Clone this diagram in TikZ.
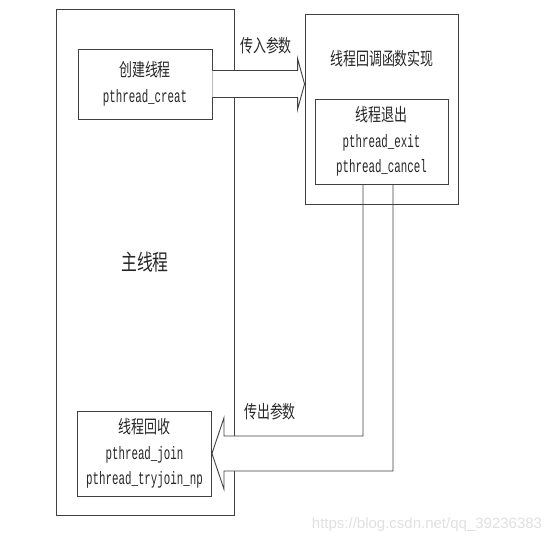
\documentclass[tikz,border=0pt]{standalone}
\usepackage{fontspec}
\setmainfont{Liberation Mono}[FakeStretch=0.6]
\newfontfamily\cjk{Noto Sans CJK SC}[FakeStretch=0.72]
\newfontfamily\wmfont{Liberation Sans}
\usetikzlibrary{calc, positioning}

\begin{document}
\begin{tikzpicture}[x=1pt, y=-1pt,
    box/.style={draw=black!75, line width=0.9pt, rectangle, inner sep=0pt, text=black!85, align=center, font=\fontsize{18}{25.5}\selectfont},
    txt/.style={text=black!85, inner sep=0pt, font=\fontsize{18}{22}\selectfont\cjk},
    edge/.style={draw=black!75, line width=0.9pt},
    hollow/.style={edge, fill=white, line join=miter}]
        \useasboundingbox (0,0) rectangle (557,545);
        % Boxes
        \node[box, minimum width=178pt, minimum height=506pt, font=\fontsize{22}{22}\selectfont\cjk] (main) at (145,262) {主线程};
        \node[box, minimum width=134pt, minimum height=70pt] (create) at (145,84) {{\cjk 创建线程}\\pthread\_creat};
        \node[box, minimum width=153pt, minimum height=190pt] (callback) at (381.5,109) {};
        \node[txt] (cbtitle) at (382,59) {线程回调函数实现};
        \node[box, minimum width=133pt, minimum height=85pt] (exit) at (381.5,141.5) {{\cjk 线程退出}\\pthread\_exit\\pthread\_cancel};
        \node[box, minimum width=134pt, minimum height=85pt] (recycle) at (144.5,453.5) {{\cjk 线程回收}\\pthread\_join\\pthread\_tryjoin\_np};

        % Pass-in arrow
        \coordinate (intip) at (callback.west |- create.east);
        \draw[hollow] ($(create.east)+(0,-13.5)$) -- ($(intip)+(-7,-13.5)$) -- ++(0,-12) -- (intip)
            -- ($(intip)+(-7,25.5)$) -- ++(0,-12) -- ($(create.east)+(0,13.5)$);
        \node[txt] (inlbl) at (266,46) {传入参数};

        % Pass-out arrow
        \coordinate (outtip) at (recycle.east);
        \draw[hollow] ($(exit.south)+(-18.5,0)$) |- ($(outtip)+(12,-17.5)$) -- ++(0,-18) -- (outtip)
            -- ($(outtip)+(12,35.5)$) -- ++(0,-18) -| ($(exit.south)+(11.5,0)$);
        \draw[edge] (callback.south west) -- (callback.south east) (exit.south west) -- (exit.south east);
        \node[txt] (outlbl) at (270,412) {传出参数};

        \node[text=black!12, inner sep=0pt, font=\fontsize{15}{15}\selectfont\wmfont] (wm) at (427,525) {https://blog.csdn.net/qq\_39236383};
\end{tikzpicture}
\end{document}
